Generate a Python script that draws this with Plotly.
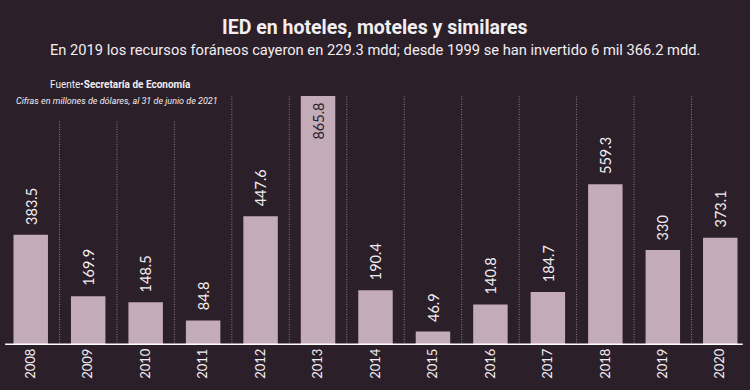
import plotly.graph_objects as go

years = ["2008", "2009", "2010", "2011", "2012", "2013", "2014",
         "2015", "2016", "2017", "2018", "2019", "2020"]
values = [383.5, 169.9, 148.5, 84.8, 447.6, 865.8, 190.4,
          46.9, 140.8, 184.7, 559.3, 330, 373.1]
labels = ["383.5", "169.9", "148.5", "84.8", "447.6", "865.8", "190.4",
          "46.9", "140.8", "184.7", "559.3", "330", "373.1"]

title = "IED en hoteles, moteles y similares"
subtitle = "En 2019 los recursos foráneos cayeron en 229.3 mdd; desde 1999 se han invertido 6 mil 366.2 mdd."
source_label = "Fuente•"
source_name = "Secretaría de Economía"
note = "Cifras en millones de dólares, al 31 de junio de 2021"

BG = "#2b1f2a"
BAR = "#c4abb9"
TXT = "#f2eef1"
FONT = "Roboto, sans-serif"
NUMFONT = "Lato, Roboto, sans-serif"

vmax = max(values)
imax = values.index(vmax)
n = len(years)

fig = go.Figure()
fig.add_trace(go.Bar(
    x=years, y=values, width=0.6,
    marker=dict(color=BAR, line=dict(width=0)),
    hoverinfo="skip",
))

annotations = []
for i, (v, lab) in enumerate(zip(values, labels)):
    if i == imax:
        annotations.append(dict(
            x=i, y=v, xref="x", yref="y", text=lab, showarrow=False,
            textangle=-90, yanchor="top", xanchor="center", yshift=-5,
            font=dict(family=NUMFONT, size=14.5, color=BG)))
    else:
        annotations.append(dict(
            x=i, y=v, xref="x", yref="y", text=lab, showarrow=False,
            textangle=-90, yanchor="bottom", xanchor="center", yshift=8,
            font=dict(family=NUMFONT, size=14.5, color=TXT)))

shapes = []
for i in range(n - 1):
    top = 0.9 if i < 3 else 1.0
    shapes.append(dict(
        type="line", xref="x", yref="paper", x0=i + 0.5, x1=i + 0.5,
        y0=0, y1=top, layer="below",
        line=dict(color="rgba(215,205,215,0.55)", width=1, dash="1px,1.5px")))
shapes.append(dict(
    type="line", xref="x", yref="y", x0=-0.445, x1=n - 0.61, y0=0, y1=0,
    line=dict(color="white", width=3)))

W, H = 750, 390
ML, MR, MT, MB = 2, 1, 96, 45


def px_x(px):
    return (px - ML) / (W - ML - MR)


def px_y(py):
    return (H - MB - py) / (H - MT - MB)


annotations += [
    dict(x=px_x(375), y=px_y(28), xref="paper", yref="paper",
         text=f"<b>{title}</b>", showarrow=False, xanchor="center", yanchor="middle",
         font=dict(family=FONT, size=19.5, color=TXT)),
    dict(x=px_x(375), y=px_y(50), xref="paper", yref="paper",
         text=subtitle, showarrow=False, xanchor="center", yanchor="middle",
         font=dict(family=FONT, size=14.7, color=TXT)),
    dict(x=px_x(193), y=px_y(84), xref="paper", yref="paper",
         text=f"{source_label}<b>{source_name}</b>", showarrow=False,
         xanchor="right", yanchor="middle",
         font=dict(family=FONT, size=10, color=TXT)),
    dict(x=px_x(220), y=px_y(101), xref="paper", yref="paper",
         text=f"<i>{note}</i>", showarrow=False,
         xanchor="right", yanchor="middle",
         font=dict(family=FONT, size=9, color=TXT)),
]

fig.update_layout(
    width=W, height=H,
    margin=dict(l=ML, r=MR, t=MT, b=MB, pad=0),
    paper_bgcolor=BG, plot_bgcolor=BG,
    showlegend=False,
    xaxis=dict(type="category", range=[-0.5, n - 0.5], showgrid=False,
               zeroline=False, showline=False, ticks="", tickangle=-90,
               tickfont=dict(family=NUMFONT, size=13, color=TXT),
               fixedrange=True),
    yaxis=dict(range=[0, vmax], visible=False, showgrid=False,
               zeroline=False, fixedrange=True),
    annotations=annotations,
    shapes=shapes,
)

fig.write_html(
    "out.html",
    config={"displayModeBar": False},
    post_script="document.body.style.margin='0';document.body.style.background='" + BG + "';",
)
